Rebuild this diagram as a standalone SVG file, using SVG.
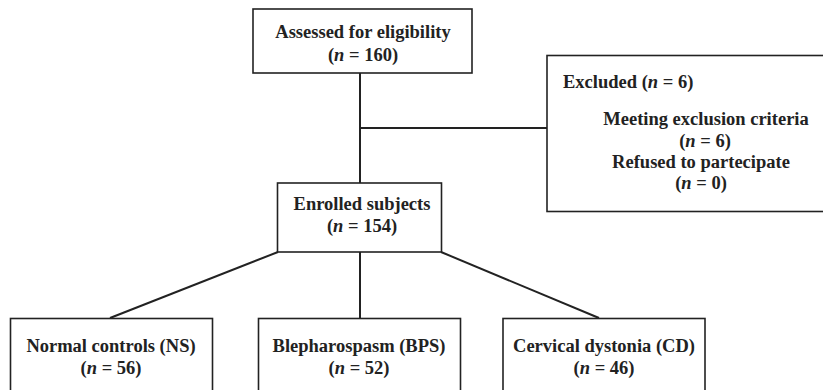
<svg xmlns="http://www.w3.org/2000/svg" width="823" height="390" viewBox="0 0 823 390">
<style>
.box{fill:#fff;stroke:#222;stroke-width:1.6}
.t{font-family:"Liberation Serif","Times New Roman",serif;font-weight:bold;font-size:18.5px;fill:#222}
.m{text-anchor:middle}
.i{font-style:italic}
.c{stroke:#222;stroke-width:2;fill:none}
</style>
<rect width="823" height="390" fill="#fff"/>
<g id="connectors">
<line class="c" x1="360" y1="73" x2="360" y2="183"/>
<line class="c" x1="360" y1="128" x2="547" y2="128"/>
<line class="c" x1="278" y1="252" x2="110" y2="318"/>
<line class="c" x1="360" y1="252" x2="360" y2="318"/>
<line class="c" x1="441" y1="252" x2="599" y2="318"/>
</g>
<g id="assessed">
<rect class="box" x="253" y="9" width="219" height="64"/>
<text class="t m" x="363" y="38">Assessed for eligibility</text>
<text class="t m" x="363" y="61">(<tspan class="i">n</tspan> = 160)</text>
</g>
<g id="excluded">
<rect class="box" x="547" y="55.5" width="290" height="156"/>
<text class="t" x="563" y="88">Excluded (<tspan class="i">n</tspan> = 6)</text>
<text class="t m" x="706" y="125">Meeting exclusion criteria</text>
<text class="t m" x="705" y="147">(<tspan class="i">n</tspan> = 6)</text>
<text class="t m" x="701" y="168">Refused to partecipate</text>
<text class="t m" x="701" y="189">(<tspan class="i">n</tspan> = 0)</text>
</g>
<g id="enrolled">
<rect class="box" x="277.5" y="183" width="164" height="69"/>
<text class="t m" x="362" y="210">Enrolled subjects</text>
<text class="t m" x="362" y="232">(<tspan class="i">n</tspan> = 154)</text>
</g>
<g id="normal">
<rect class="box" x="10.5" y="318.5" width="202" height="80"/>
<text class="t m" x="111" y="352">Normal controls (NS)</text>
<text class="t m" x="111" y="374">(<tspan class="i">n</tspan> = 56)</text>
</g>
<g id="bps">
<rect class="box" x="258.5" y="318.5" width="202" height="80"/>
<text class="t m" x="359" y="352">Blepharospasm (BPS)</text>
<text class="t m" x="359" y="374">(<tspan class="i">n</tspan> = 52)</text>
</g>
<g id="cd">
<rect class="box" x="503" y="318.5" width="202" height="80"/>
<text class="t m" x="604" y="352">Cervical dystonia (CD)</text>
<text class="t m" x="604" y="374">(<tspan class="i">n</tspan> = 46)</text>
</g>
</svg>
